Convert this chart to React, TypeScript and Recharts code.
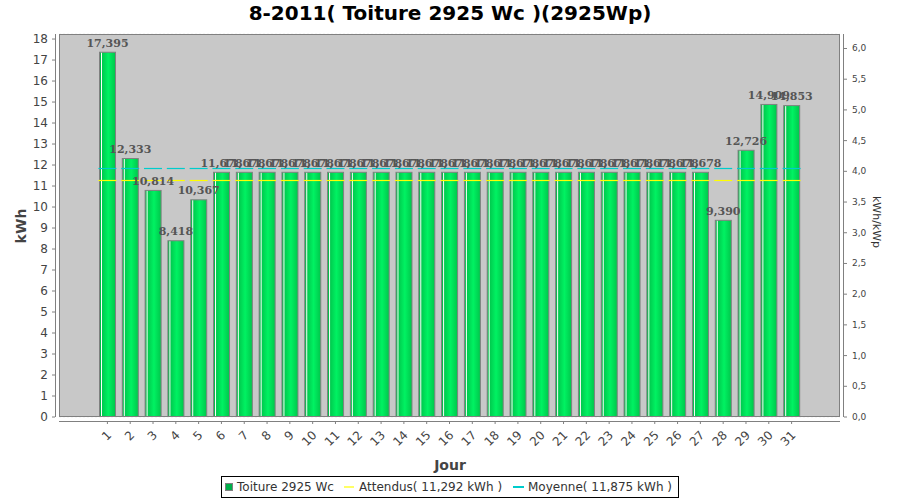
import React from 'react';
import { ComposedChart, Bar, Line, XAxis, YAxis, CartesianGrid, LabelList } from 'recharts';

const days = ['1','2','3','4','5','6','7','8','9','10','11','12','13','14','15','16','17','18','19','20','21','22','23','24','25','26','27','28','29','30','31'];
const production = [17.395, 12.333, 10.814, 8.418, 10.367, 11.678, 11.678, 11.678, 11.678, 11.678, 11.678, 11.678, 11.678, 11.678, 11.678, 11.678, 11.678, 11.678, 11.678, 11.678, 11.678, 11.678, 11.678, 11.678, 11.678, 11.678, 11.678, 9.390, 12.726, 14.909, 14.853];
const expectedValue = 11.292;
const averageValue = 11.875;
const peakPower = 2.925;
const leftTicks = [0, 1, 2, 3, 4, 5, 6, 7, 8, 9, 10, 11, 12, 13, 14, 15, 16, 17, 18];
const rightTicks = [0, 0.5, 1, 1.5, 2, 2.5, 3, 3.5, 4, 4.5, 5, 5.5, 6];
const leftMax = 18.24;

const data = days.map((d, i) => ({
  day: d,
  kwh: production[i],
  expected: expectedValue,
  average: averageValue,
  ratio: production[i] / peakPower,
}));

const fmt = (v: number, digits: number) => v.toFixed(digits).replace('.', ',');

const BarShape = (props: any) => {
  const { x, y, width, height, index } = props;
  if (!height || height <= 0) return null;
  const id = `barGrad${index}`;
  return (
    <g>
      <defs>
        <linearGradient id={id} x1="0" y1="0" x2="1" y2="0">
          <stop offset="0%" stopColor="#00b845" />
          <stop offset="55%" stopColor="#00f262" />
          <stop offset="100%" stopColor="#00c64b" />
        </linearGradient>
      </defs>
      <rect x={x + 0.5} y={y + 0.5} width={width - 1} height={height - 1} fill={`url(#${id})`} stroke="#808080" strokeWidth={1} />
      <line x1={x + 2.5} x2={x + 2.5} y1={y + 1} y2={y + height - 1} stroke="#ffffff" strokeWidth={1} />
    </g>
  );
};

const renderBarLabel = (props: any) => {
  const { x, y, width, value } = props;
  return (
    <text x={x + width / 2} y={y - 5} textAnchor="middle" fontFamily="DejaVu Serif" fontWeight="bold" fontSize={11} fill="#555555">
      {fmt(Number(value), 3)}
    </text>
  );
};

const segmentDot = (color: string) => (props: any) => {
  const { cx, cy, index } = props;
  if (cx == null || cy == null) return <g key={`e${index}`} />;
  const yy = Math.round(cy) + 0.5;
  return <line key={`s${color}${index}`} x1={cx - 9} x2={cx + 9} y1={yy} y2={yy} stroke={color} strokeWidth={1.2} />;
};

const XTick = (props: any) => {
  const { x, y, payload } = props;
  const ax = x + 2;
  const ay = y + 16;
  return (
    <g>
      <line x1={x} x2={x} y1={y + 4} y2={y + 7} stroke="#808080" />
      <text x={ax} y={ay} transform={`rotate(-45, ${ax}, ${ay})`} textAnchor="end" dominantBaseline="central" fontFamily="DejaVu Sans" fontSize={12} fill="#444444">
        {payload.value}
      </text>
    </g>
  );
};

const LeftTick = (props: any) => {
  const { x, y, payload } = props;
  return (
    <g>
      <line x1={x - 4} x2={x - 7} y1={y} y2={y} stroke="#808080" />
      <text x={x - 11} y={y} textAnchor="end" dominantBaseline="central" fontFamily="DejaVu Sans" fontSize={12} fill="#444444">
        {payload.value}
      </text>
    </g>
  );
};

const RightTick = (props: any) => {
  const { x, y, payload } = props;
  return (
    <g>
      <line x1={x + 4} x2={x + 7} y1={y} y2={y} stroke="#808080" />
      <text x={x + 12} y={y} textAnchor="start" dominantBaseline="central" fontFamily="DejaVu Sans" fontSize={9} fill="#444444">
        {fmt(Number(payload.value), 1)}
      </text>
    </g>
  );
};

export default function App() {
  return (
    <div style={{ position: 'absolute', left: 0, top: 0, width: 900, height: 500, background: '#ffffff' }}>
      <ComposedChart width={900} height={500} data={data} margin={{ top: 34, right: 0, bottom: 53, left: 0 }}>
        <CartesianGrid vertical={false} fill="#c8c8c8" stroke="#f0f0f0" strokeDasharray="2 2" />
        <XAxis dataKey="day" type="category" interval={0} height={30} padding={{ left: 37, right: 37 }} axisLine={false} tickLine={false} tickSize={0} tickMargin={0} tick={<XTick />} />
        <YAxis yAxisId="left" orientation="left" width={59} domain={[0, leftMax]} ticks={leftTicks} interval={0} axisLine={false} tickLine={false} tickSize={0} tickMargin={0} tick={<LeftTick />} />
        <YAxis yAxisId="right" orientation="right" width={60} domain={[0, leftMax / peakPower]} ticks={rightTicks} interval={0} axisLine={false} tickLine={false} tickSize={0} tickMargin={0} tick={<RightTick />} />
        <Bar yAxisId="left" dataKey="kwh" barSize={17} shape={BarShape} isAnimationActive={false}>
          <LabelList dataKey="kwh" content={renderBarLabel} />
        </Bar>
        <Line yAxisId="right" dataKey="ratio" stroke="none" dot={false} activeDot={false} isAnimationActive={false} />
        <Line yAxisId="left" dataKey="expected" stroke="none" dot={segmentDot('#ffff00')} activeDot={false} isAnimationActive={false} />
        <Line yAxisId="left" dataKey="average" stroke="none" dot={segmentDot('#00cccc')} activeDot={false} isAnimationActive={false} />
      </ComposedChart>
      <svg width={900} height={500} style={{ position: 'absolute', left: 0, top: 0, pointerEvents: 'none' }}>
        <rect x={59.5} y={34.5} width={780} height={382} fill="none" stroke="#808080" />
        <line x1={55.5} x2={55.5} y1={34} y2={417} stroke="#808080" />
        <line x1={59} x2={840} y1={421.5} y2={421.5} stroke="#808080" />
        <line x1={843.5} x2={843.5} y1={34} y2={417} stroke="#808080" />
        <text x={450} y={20} textAnchor="middle" fontFamily="DejaVu Sans" fontWeight="bold" fontSize={20} fill="#000000">
          8-2011( Toiture 2925 Wc )(2925Wp)
        </text>
        <text x={21} y={226} transform="rotate(-90, 21, 226)" textAnchor="middle" dominantBaseline="central" fontFamily="DejaVu Sans" fontWeight="bold" fontSize={14} fill="#444444">
          kWh
        </text>
        <text x={450} y={470} textAnchor="middle" fontFamily="DejaVu Sans" fontWeight="bold" fontSize={14} fill="#444444">
          Jour
        </text>
        <text x={876} y={222} transform="rotate(90, 876, 222)" textAnchor="middle" dominantBaseline="central" fontFamily="DejaVu Sans" fontSize={11} fill="#333333">
          kWh/kWp
        </text>
        <rect x={221.5} y={476.5} width={457} height={21} fill="#ffffff" stroke="#000000" />
        <rect x={225.5} y={483.5} width={7} height={7} fill="#00b04a" stroke="#808080" />
        <text x={237} y={491} fontFamily="DejaVu Sans" fontSize={12} fill="#333333">Toiture 2925 Wc</text>
        <line x1={344} x2={354} y1={487} y2={487} stroke="#ffff66" strokeWidth={2} />
        <text x={359} y={491} fontFamily="DejaVu Sans" fontSize={12} fill="#333333">Attendus( 11,292 kWh )</text>
        <line x1={513} x2={524} y1={487} y2={487} stroke="#00cccc" strokeWidth={2} />
        <text x={528} y={491} fontFamily="DejaVu Sans" fontSize={12} fill="#333333">Moyenne( 11,875 kWh )</text>
      </svg>
    </div>
  );
}
